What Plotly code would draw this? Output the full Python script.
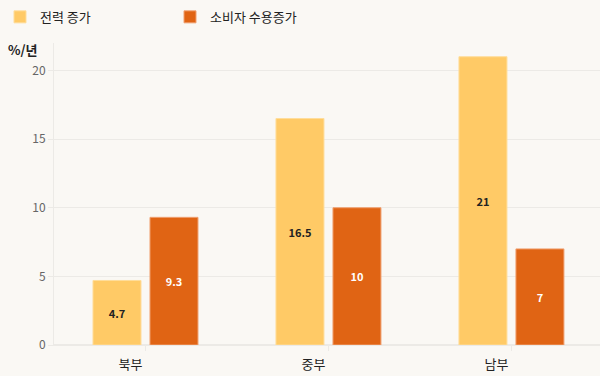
import plotly.graph_objects as go

categories = ["북부", "중부", "남부"]
power_growth = [4.7, 16.5, 21]
consumer_growth = [9.3, 10, 7]
series_names = ["전력 증가", "소비자 수용증가"]
y_ticks = [0, 5, 10, 15, 20]
y_unit = "%/년"

FONT = "Noto Sans CJK KR, Noto Sans, sans-serif"
BG = "#FAF8F4"
GRID = "#ECEAE6"

fig = go.Figure()
fig.add_trace(go.Bar(
    x=categories, y=power_growth, name=series_names[0],
    marker=dict(color="#FFCA66", line=dict(color="#FFDD9A", width=1)),
    text=power_growth, texttemplate="%{y}", textposition="inside",
    insidetextanchor="middle", textangle=0,
    textfont=dict(color="#222222", size=11, family=FONT, weight=700),
    hoverinfo="skip",
))
fig.add_trace(go.Bar(
    x=categories, y=consumer_growth, name=series_names[1],
    marker=dict(color="#E06414", line=dict(color="#F0A070", width=1)),
    text=consumer_growth, texttemplate="%{y}", textposition="inside",
    insidetextanchor="middle", textangle=0,
    textfont=dict(color="#FFFFFF", size=11, family=FONT, weight=700),
    hoverinfo="skip",
))

fig.update_layout(
    width=600, height=376,
    paper_bgcolor=BG, plot_bgcolor=BG,
    margin=dict(l=54, r=0, t=43, b=31),
    barmode="group", bargap=0.377, bargroupgap=0.158,
    font=dict(family=FONT, size=12, color="#333333"),
    uniformtext=dict(minsize=8, mode="show"),
    legend=dict(
        orientation="h", xref="container", yref="container",
        x=0.0, y=0.995, xanchor="left", yanchor="top",
        font=dict(size=13, color="#222222", family=FONT),
        entrywidth=125, entrywidthmode="pixels",
        bgcolor="rgba(0,0,0,0)",
    ),
    xaxis=dict(
        range=[-0.5, 2.484], showgrid=False, showline=True, linecolor=GRID,
        ticks="outside", ticklen=5, tickcolor=GRID,
        tickfont=dict(size=13, color="#222222", family=FONT),
        ticklabelshift=-15, ticklabelstandoff=2,
        fixedrange=True,
    ),
    yaxis=dict(
        range=[0, 22], tickvals=y_ticks, showgrid=True, gridcolor=GRID,
        zeroline=True, zerolinecolor=GRID, showline=True, linecolor=GRID,
        ticks="outside", ticklen=5, tickcolor=GRID,
        tickfont=dict(size=12, color="#666666", family=FONT),
        fixedrange=True,
    ),
    annotations=[dict(
        text=f"<b>{y_unit}</b>", xref="paper", yref="paper", x=0, y=1,
        xanchor="right", yanchor="middle", xshift=-14, yshift=-6,
        showarrow=False, font=dict(size=13, color="#222222", family=FONT),
    )],
)

fig.write_html(
    "out.html",
    config={"displayModeBar": False},
    post_script="document.body.style.margin='0';document.body.style.background='" + BG + "';",
)
